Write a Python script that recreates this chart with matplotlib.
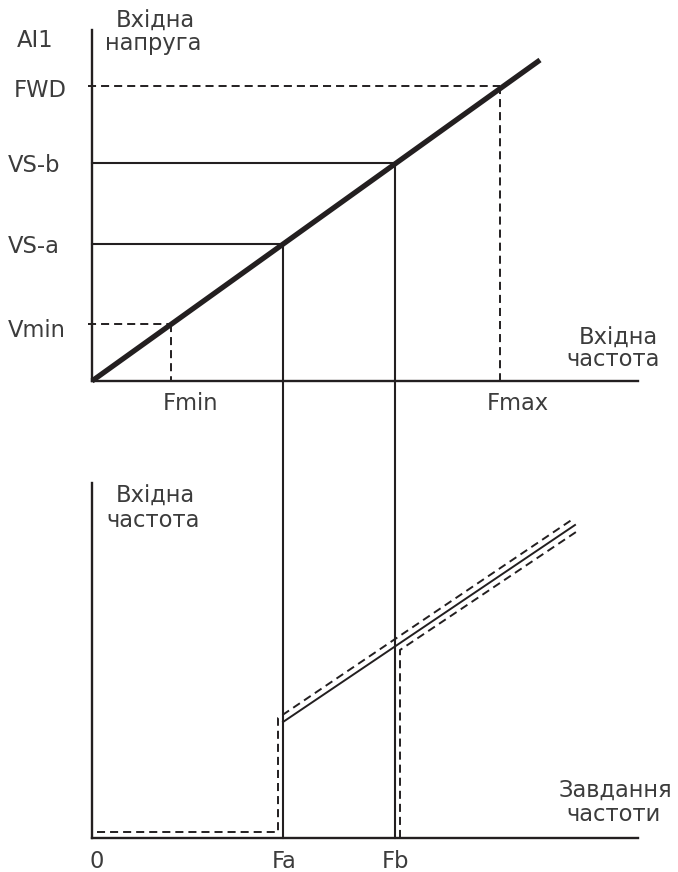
import matplotlib
matplotlib.use("Agg")
import matplotlib.pyplot as plt

# ---------------- data (diagram units) ----------------
# upper chart: input voltage vs input frequency
freq_labels = ["Fmin", "Fa", "Fb", "Fmax"]
freq_values = [79, 191, 303, 408]
volt_labels = ["Vmin", "VS-a", "VS-b", "FWD"]
volt_values = [57, 137, 218, 295]
diag_x = [0, 448]
diag_y = [0, 321]

# lower chart: input frequency vs frequency command
out_solid_x = [191, 483]
out_solid_y = [116, 313]
out_upper_x = [5, 186, 186, 481]
out_upper_y = [6, 6, 120, 319]
out_lower_x = [308, 308, 487]
out_lower_y = [0, 188, 308]

# ---------------- figure ----------------
W, H = 678, 872
plt.rcParams["lines.scale_dashes"] = False
plt.rcParams["font.family"] = ["DejaVu Sans"]
fig = plt.figure(figsize=(W / 100, H / 100), dpi=100)
fig.patch.set_facecolor("white")

LC = "#231f20"
TC = "#3c3c3c"
FS = 16.3
DASH = (5.8, 3.6)


def style_axes(ax):
    for s in ("top", "right"):
        ax.spines[s].set_visible(False)
    for s in ("left", "bottom"):
        ax.spines[s].set_linewidth(1.7)
        ax.spines[s].set_color(LC)
    ax.set_xticks([])
    ax.set_yticks([])
    ax.patch.set_alpha(0)


# upper axes: origin at (92, 381) px, x to 638, y to 30
ax1 = fig.add_axes([92 / W, 1 - 381 / H, 546 / W, 351 / H])
ax1.set_xlim(0, 546)
ax1.set_ylim(0, 351)
style_axes(ax1)

# lower axes: origin at (92, 838) px, x to 638, y to 483
ax2 = fig.add_axes([92 / W, 1 - 838 / H, 546 / W, 355 / H])
ax2.set_xlim(0, 546)
ax2.set_ylim(0, 355)
style_axes(ax2)

depth = 838 - 381  # distance between the two x axes (diagram units)

fmin, fa, fb, fmax = freq_values
vmin, vsa, vsb, fwd = volt_values

# dashed guide lines (Vmin / Fmin, FWD / Fmax)
for f, v in ((fmin, vmin), (fmax, fwd)):
    ax1.plot([-4, f], [v, v], color=LC, lw=1.4, dashes=DASH, clip_on=False)
    ax1.plot([f, f], [v, 0], color=LC, lw=1.4, dashes=DASH, clip_on=False)

# solid guide lines (VS-a / Fa, VS-b / Fb) running down to the lower x axis
for f, v in ((fa, vsa), (fb, vsb)):
    ax1.plot([0, f], [v, v], color=LC, lw=1.5, clip_on=False)
    ax1.plot([f, f], [v, -depth], color=LC, lw=1.5, clip_on=False)

# thick diagonal characteristic
ax1.plot(diag_x, diag_y, color=LC, lw=3.8, solid_capstyle="butt", clip_on=False)

# lower chart lines
ax2.plot(out_solid_x, out_solid_y, color=LC, lw=1.4, clip_on=False)
ax2.plot(out_upper_x, out_upper_y, color=LC, lw=1.4, dashes=DASH, clip_on=False)
ax2.plot(out_lower_x, out_lower_y, color=LC, lw=1.4, dashes=DASH, clip_on=False)


# ---------------- text (pixel placement) ----------------
def t(x, y, s, ha="left"):
    fig.text(x / W, 1 - y / H, s, ha=ha, va="baseline", fontsize=FS, color=TC)


t(17, 47, "AI1")
t(155, 28, "Вхідна", ha="center")
t(153, 50, "напруга", ha="center")

t(14, 97, volt_labels[3])
t(8, 172, volt_labels[2])
t(8, 253, volt_labels[1])
t(8, 337, volt_labels[0])

t(658, 345, "Вхідна", ha="right")
t(660, 366, "частота", ha="right")

t(191, 410, freq_labels[0], ha="center")
t(518, 410, freq_labels[3], ha="center")

t(155, 503, "Вхідна", ha="center")
t(153, 527, "частота", ha="center")

t(672, 797, "Завдання", ha="right")
t(661, 821, "частоти", ha="right")

t(97, 868, "0", ha="center")
t(284, 868, freq_labels[1], ha="center")
t(396, 868, freq_labels[2], ha="center")

fig.savefig("out.png", dpi=100, facecolor="white")
